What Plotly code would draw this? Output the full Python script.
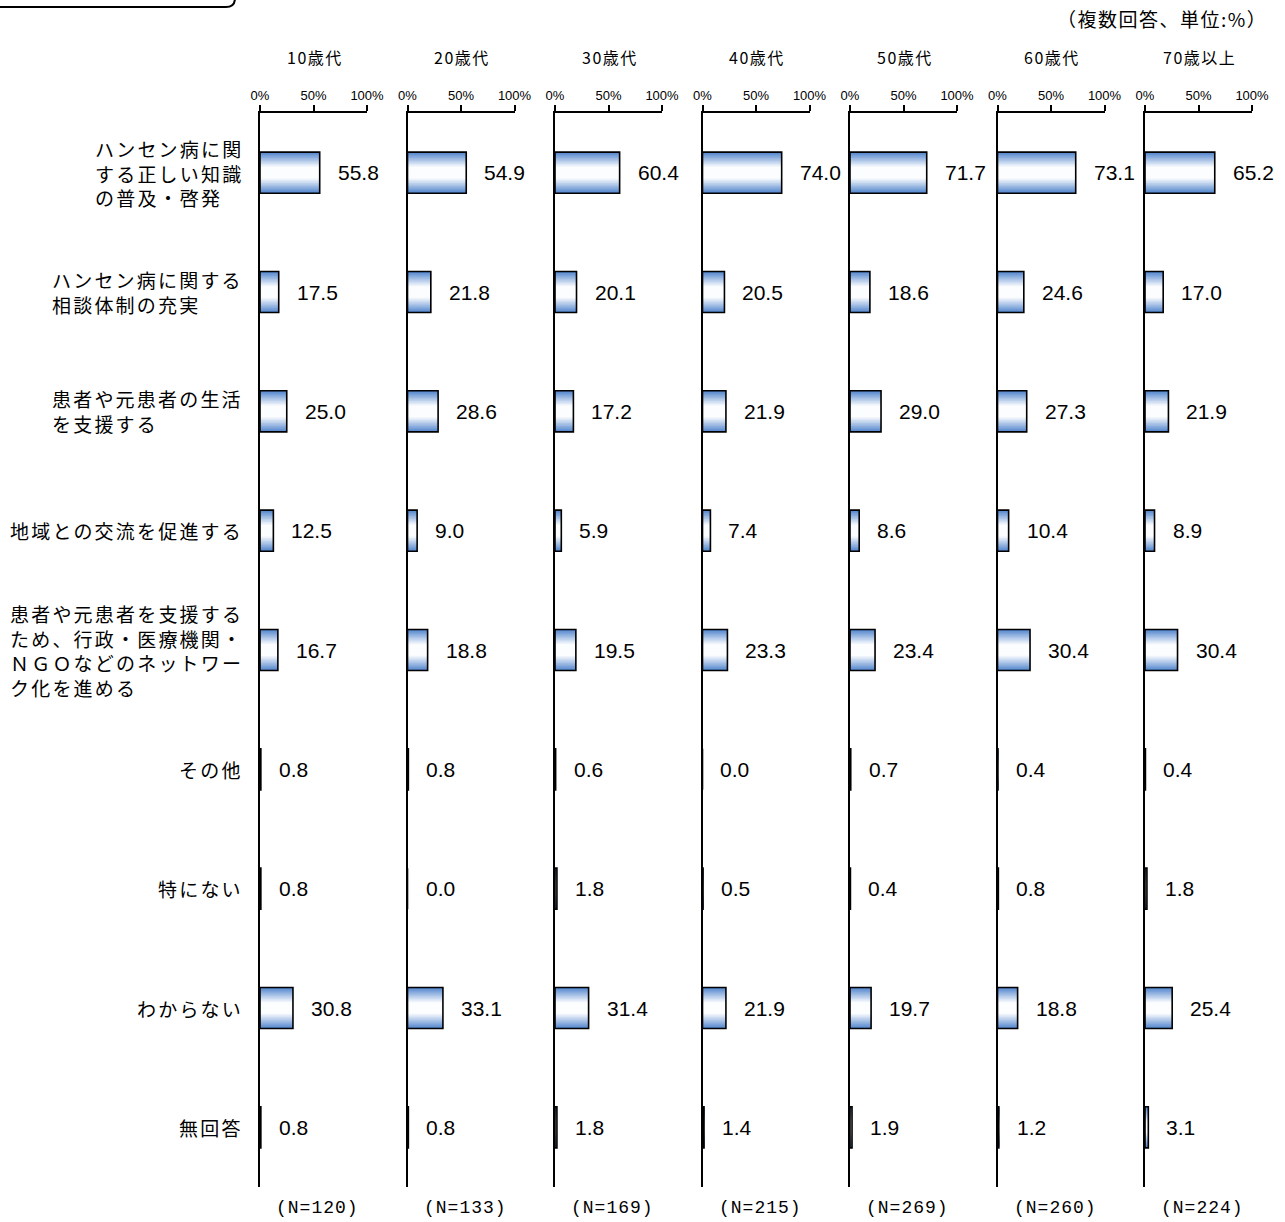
import plotly.graph_objects as go

W_FIG, H_FIG = 1285, 1222

categories = [
    "ハンセン病に関<br>する正しい知識<br>の普及・啓発",
    "ハンセン病に関する<br>相談体制の充実",
    "患者や元患者の生活<br>を支援する",
    "地域との交流を促進する",
    "患者や元患者を支援する<br>ため、行政・医療機関・<br>ＮＧＯなどのネットワー<br>ク化を進める",
    "その他",
    "特にない",
    "わからない",
    "無回答",
]
cat_keys = [f"c{i}" for i in range(len(categories))]

groups = ["10歳代", "20歳代", "30歳代", "40歳代", "50歳代", "60歳代", "70歳以上"]
n_labels = ["(N=120)", "(N=133)", "(N=169)", "(N=215)", "(N=269)", "(N=260)", "(N=224)"]

v10 = [55.8, 17.5, 25.0, 12.5, 16.7, 0.8, 0.8, 30.8, 0.8]
v20 = [54.9, 21.8, 28.6, 9.0, 18.8, 0.8, 0.0, 33.1, 0.8]
v30 = [60.4, 20.1, 17.2, 5.9, 19.5, 0.6, 1.8, 31.4, 1.8]
v40 = [74.0, 20.5, 21.9, 7.4, 23.3, 0.0, 0.5, 21.9, 1.4]
v50 = [71.7, 18.6, 29.0, 8.6, 23.4, 0.7, 0.4, 19.7, 1.9]
v60 = [73.1, 24.6, 27.3, 10.4, 30.4, 0.4, 0.8, 18.8, 1.2]
v70 = [65.2, 17.0, 21.9, 8.9, 30.4, 0.4, 1.8, 25.4, 3.1]
series = [v10, v20, v30, v40, v50, v60, v70]

tick_vals = [0, 50, 100]
tick_text = ["0%", "50%", "100%"]

JP = "Noto Sans CJK JP"
NUM = "Liberation Sans, Arial"
MONO = "Liberation Mono, DejaVu Sans Mono"

def px(x):
    return x / W_FIG

def py(y):
    return 1 - y / H_FIG

def spaced(txt, sp):
    return "<br>".join(f'<span style="letter-spacing:{sp}px">{ln}</span>' for ln in txt.split("<br>"))

fig = go.Figure()

BAR_W = 0.344
N_LAYERS = 14
edge = (86, 136, 206)
white = (252, 253, 255)

y_dom = [py(1187), py(113)]
annotations = []

for i, vals in enumerate(series):
    xr = "x" if i == 0 else f"x{i+1}"
    yr = "y" if i == 0 else f"y{i+1}"
    xk = "xaxis" if i == 0 else f"xaxis{i+1}"
    yk = "yaxis" if i == 0 else f"yaxis{i+1}"
    x0 = 260 + 147.5 * i
    x1 = x0 + 107
    for k in range(N_LAYERS):
        t = k / (N_LAYERS - 1)
        f = min(1.0, t / 0.75)
        c = tuple(int(round(edge[j] * (1 - f) + white[j] * f)) for j in range(3))
        fig.add_trace(go.Bar(
            x=vals, y=cat_keys, orientation="h", xaxis=xr, yaxis=yr,
            width=BAR_W * (1 - k / N_LAYERS),
            marker=dict(color=f"rgb{c}", line=dict(width=0)),
            hoverinfo="skip", showlegend=False,
        ))
    fig.add_trace(go.Bar(
        x=vals, y=cat_keys, orientation="h", xaxis=xr, yaxis=yr,
        width=BAR_W,
        marker=dict(color="rgba(0,0,0,0)", line=dict(color="black", width=1.6)),
        hoverinfo="skip", showlegend=False,
    ))
    fig.layout[xk] = dict(
        domain=[px(x0), px(x1)], range=[0, 100], side="top", anchor=yr,
        showline=True, linecolor="black", linewidth=2,
        ticks="outside", ticklen=6, tickwidth=2, tickcolor="black",
        tickvals=tick_vals, ticktext=tick_text,
        tickfont=dict(family=NUM, size=13, color="black"),
        showgrid=False, zeroline=False, fixedrange=True, automargin=False,
    )
    fig.layout[yk] = dict(
        domain=y_dom, anchor=xr, type="category",
        categoryorder="array", categoryarray=cat_keys,
        range=[len(cat_keys) - 0.5, -0.5],
        showline=True, linecolor="black", linewidth=2,
        showticklabels=False, ticks="", showgrid=False, zeroline=False,
        fixedrange=True, automargin=False,
    )
    for c, v in zip(cat_keys, vals):
        annotations.append(dict(
            x=v, y=c, xref=xr, yref=yr, text=f"{v:.1f}", showarrow=False,
            xanchor="left", yanchor="middle", xshift=16,
            font=dict(family=NUM, size=21, color="black"),
        ))
    cx = (x0 + x1) / 2
    annotations.append(dict(
        x=px(cx + 1), y=py(57), xref="paper", yref="paper", text=spaced(groups[i], 1.5),
        showarrow=False, xanchor="center", yanchor="middle",
        font=dict(family=JP, size=16, color="black"),
    ))
    annotations.append(dict(
        x=px(cx + 4), y=py(1208), xref="paper", yref="paper", text=spaced(n_labels[i], 1),
        showarrow=False, xanchor="center", yanchor="middle",
        font=dict(family=MONO, size=18, color="black"),
    ))

for c, lab in zip(cat_keys, categories):
    annotations.append(dict(
        x=px(245), y=c, xref="paper", yref="y", text=spaced(lab, 2.2), showarrow=False,
        xanchor="right", yanchor="middle", align="left",
        font=dict(family=JP, size=19, color="black"),
    ))

annotations.append(dict(
    x=px(1269), y=py(19), xref="paper", yref="paper", text=spaced("（複数回答、単位:%）", 1.5),
    showarrow=False, xanchor="right", yanchor="middle",
    font=dict(family=JP, size=19, color="black"),
))

shapes = [dict(
    type="path", xref="paper", yref="paper",
    path=f"M {px(-2)},{py(7)} L {px(226)},{py(7)} Q {px(235)},{py(7)} {px(235)},{py(-2)}",
    line=dict(color="black", width=2),
)]

fig.update_layout(
    width=W_FIG, height=H_FIG,
    margin=dict(l=0, r=0, t=0, b=0, pad=0, autoexpand=False),
    paper_bgcolor="white", plot_bgcolor="white",
    barmode="overlay", showlegend=False,
    annotations=annotations, shapes=shapes,
    font=dict(family=JP, color="black"),
)

fig.write_html("out.html")
